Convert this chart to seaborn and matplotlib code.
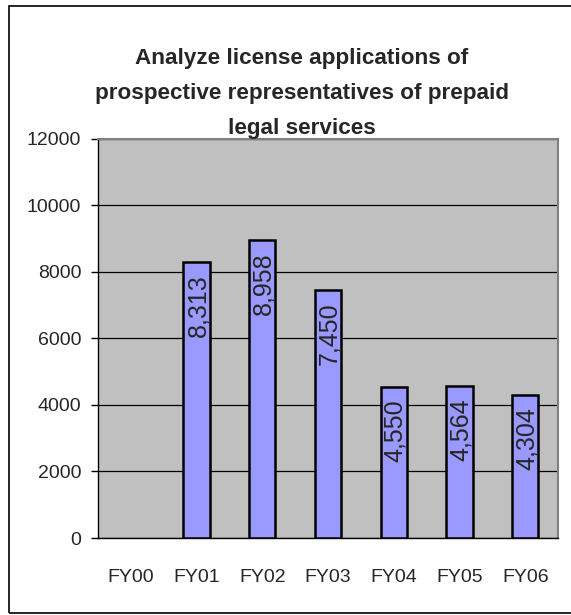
import math
import matplotlib
matplotlib.use("Agg")
import matplotlib.pyplot as plt
import matplotlib.patches as mpatches
import seaborn as sns

# data (FY00 has no bar)
years = ["FY00", "FY01", "FY02", "FY03", "FY04", "FY05", "FY06"]
applications = [float("nan"), 8313, 8958, 7450, 4550, 4564, 4304]
title_lines = [
    "Analyze license applications of",
    "prospective representatives of prepaid",
    "legal services",
]
y_ticks = [0, 2000, 4000, 6000, 8000, 10000, 12000]

sns.set_style("white")
plt.rcParams["font.family"] = ["Liberation Sans", "DejaVu Sans"]

fig = plt.figure(figsize=(5.71, 6.15), dpi=100)
ax = fig.add_axes([0.1716, 0.1252, 0.806, 0.649])
ax.set_facecolor("#C0C0C0")

sns.barplot(x=years, y=applications, color="#9999FF", edgecolor="black",
            linewidth=1.8, width=0.4, saturation=1, ax=ax, zorder=3)

ax.set_ylim(0, 12000)
ax.set_xlim(-0.5, len(years) - 0.5)
ax.set_yticks(y_ticks)
ax.set_yticklabels([str(t) for t in y_ticks], fontsize=14)
ax.grid(axis="y", color="black", linewidth=0.9, zorder=1)
ax.set_axisbelow(True)

# category labels in the middle, tick marks between categories
ax.set_xticks([i - 0.5 for i in range(len(years) + 1)])
ax.set_xticklabels([])
ax.set_xticks(range(len(years)), minor=True)
ax.set_xticklabels(years, minor=True, fontsize=14)
ax.tick_params(axis="x", which="major", direction="out", length=6, width=1, color="black")
ax.tick_params(axis="x", which="minor", length=0, pad=22)
ax.tick_params(axis="y", direction="out", length=5, width=1, color="black", pad=7, left=True)

for side in ["top", "right"]:
    ax.spines[side].set_color("#808080")
    ax.spines[side].set_linewidth(1.5)
for side in ["left", "bottom"]:
    ax.spines[side].set_color("black")
    ax.spines[side].set_linewidth(1)

for i, v in enumerate(applications):
    if not math.isnan(v):
        ax.annotate(f"{v:,.0f}", (i, v), xytext=(1, -9), textcoords="offset points",
                    rotation=90, ha="center", va="top", fontsize=18, zorder=4)

for k, line in enumerate(title_lines):
    fig.text(0.529, 1 - (64 + 35 * k) / 615, line, ha="center", va="baseline",
             fontsize=16.2, fontweight="bold")

ax.set_xlabel("")
ax.set_ylabel("")

# chart area border (right edge runs off the picture)
fig.add_artist(mpatches.Rectangle((9 / 571, 2 / 615), 1.2, 1 - 8 / 615,
                                  transform=fig.transFigure, fill=False,
                                  edgecolor="black", linewidth=1.2))

fig.savefig("out.png", dpi=100)
